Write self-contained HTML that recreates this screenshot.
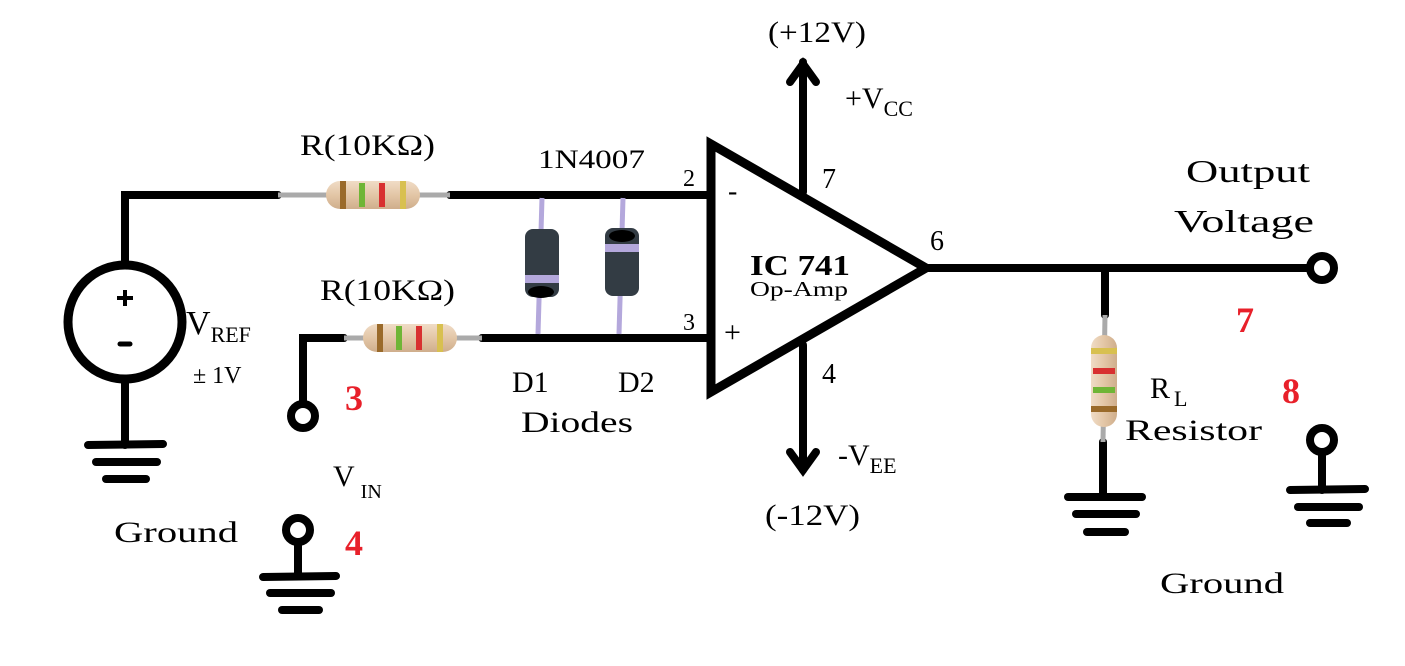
<!DOCTYPE html>
<html><head><meta charset="utf-8"><style>
body{margin:0;background:#fff;}
svg{display:block;}
text{font-family:"Liberation Serif",serif;fill:#000;}
</style></head><body>
<svg width="1405" height="666" viewBox="0 0 1405 666">
<defs>
<linearGradient id="rb" x1="0" y1="0" x2="0" y2="1"><stop offset="0" stop-color="#f0dcc6"/><stop offset="0.5" stop-color="#e3c6a6"/><stop offset="1" stop-color="#cfae8c"/></linearGradient>
<linearGradient id="rbv" x1="0" y1="0" x2="1" y2="0"><stop offset="0" stop-color="#f0dcc6"/><stop offset="0.5" stop-color="#e3c6a6"/><stop offset="1" stop-color="#cfae8c"/></linearGradient>
</defs>
<g stroke="#000" stroke-width="8" stroke-linecap="round" fill="none">
<polyline points="125,265 125,195 278,195"/>
<line x1="450" y1="195" x2="708" y2="195"/>
<polyline points="344,338 303,338 303,403"/>
<line x1="482" y1="338" x2="708" y2="338"/>
<line x1="125" y1="380" x2="125" y2="445"/>
<line x1="928" y1="268" x2="1308" y2="268"/>
<line x1="1105" y1="268" x2="1105" y2="315"/>
<line x1="1103" y1="442" x2="1103" y2="495"/>
<line x1="803" y1="192" x2="803" y2="62"/>
<polyline points="790,82 803,64 816,82"/>
<line x1="803" y1="345" x2="803" y2="470"/>
<polyline points="790,452 803,470 816,452"/>
<line x1="298" y1="542" x2="298" y2="575"/>
<line x1="1322" y1="452" x2="1322" y2="490"/>
</g>
<g stroke="#000" stroke-width="8" stroke-linecap="round">
<line x1="88" y1="445" x2="163" y2="444"/><line x1="96" y1="462" x2="157" y2="462"/><line x1="106" y1="479" x2="146" y2="479"/>
<line x1="263" y1="577" x2="336" y2="576"/><line x1="270" y1="593" x2="331" y2="593"/><line x1="282" y1="610" x2="319" y2="610"/>
<line x1="1068" y1="497" x2="1142" y2="497"/><line x1="1076" y1="514" x2="1136" y2="514"/><line x1="1087" y1="532" x2="1125" y2="532"/>
<line x1="1290" y1="490" x2="1365" y2="489"/><line x1="1298" y1="507" x2="1359" y2="507"/><line x1="1310" y1="523" x2="1347" y2="523"/>
</g>
<g stroke="#000" stroke-width="8" fill="#fff">
<circle cx="303" cy="416" r="12"/>
<circle cx="298" cy="530" r="12"/>
<circle cx="1322" cy="268" r="12"/>
<circle cx="1322" cy="440" r="12"/>
</g>
<g>
<circle cx="125" cy="322" r="57" stroke="#000" stroke-width="9" fill="#fff"/>
<line x1="117" y1="298" x2="133" y2="298" stroke="#000" stroke-width="4"/><line x1="125" y1="290" x2="125" y2="306" stroke="#000" stroke-width="4"/>
<line x1="120" y1="344" x2="130" y2="344" stroke="#000" stroke-width="5" stroke-linecap="round"/>
</g>
<g>
<line x1="278" y1="195" x2="450" y2="195" stroke="#aaa" stroke-width="5"/>
<rect x="326" y="181" width="94" height="28" rx="14" fill="url(#rb)"/>
<rect x="340" y="181" width="6" height="28" fill="#9a6a2a"/><rect x="359" y="183" width="6" height="24" fill="#6fb536"/><rect x="379" y="183" width="6" height="24" fill="#d83030"/><rect x="400" y="181" width="6" height="28" fill="#d8c050"/>
</g>
<g>
<line x1="344" y1="338" x2="482" y2="338" stroke="#aaa" stroke-width="5"/>
<rect x="363" y="324" width="94" height="28" rx="14" fill="url(#rb)"/>
<rect x="377" y="324" width="6" height="28" fill="#9a6a2a"/><rect x="396" y="326" width="6" height="24" fill="#6fb536"/><rect x="416" y="326" width="6" height="24" fill="#d83030"/><rect x="437" y="324" width="6" height="28" fill="#d8c050"/>
</g>
<g>
<line x1="1105" y1="315" x2="1103" y2="442" stroke="#aaa" stroke-width="5"/>
<rect x="1091" y="335" width="26" height="92" rx="13" fill="url(#rbv)"/>
<rect x="1091" y="348" width="26" height="6" fill="#d8c050"/><rect x="1093" y="368" width="22" height="6" fill="#d83030"/><rect x="1093" y="387" width="22" height="6" fill="#6fb536"/><rect x="1091" y="406" width="26" height="6" fill="#9a6a2a"/>
</g>
<g>
<line x1="542" y1="198" x2="538" y2="334" stroke="#b4a8dc" stroke-width="5"/>
<rect x="525" y="229" width="34" height="68" rx="8" fill="#333c44"/>
<rect x="525" y="275" width="34" height="8" fill="#b4a8dc"/>
<ellipse cx="541" cy="292" rx="13" ry="6" fill="#000"/>
</g>
<g>
<line x1="623" y1="198" x2="619" y2="334" stroke="#b4a8dc" stroke-width="5"/>
<rect x="605" y="228" width="34" height="68" rx="8" fill="#333c44"/>
<rect x="605" y="244" width="34" height="8" fill="#b4a8dc"/>
<ellipse cx="622" cy="236" rx="13" ry="6" fill="#000"/>
</g>
<polygon points="711,144 711,392 926,268" fill="#fff" stroke="#000" stroke-width="9" stroke-linejoin="miter"/>
<text x="768" y="42" font-size="30" textLength="98" lengthAdjust="spacingAndGlyphs">(+12V)</text>
<text x="845" y="108" font-size="30">+V<tspan font-size="22" dy="8">CC</tspan></text>
<text x="822" y="188" font-size="28">7</text>
<text x="822" y="383" font-size="28">4</text>
<text x="930" y="250" font-size="28">6</text>
<text x="683" y="186" font-size="24">2</text>
<text x="683" y="330" font-size="24">3</text>
<text x="728" y="200" font-size="28">-</text>
<text x="724" y="342" font-size="30">+</text>
<text x="750" y="275" font-size="28" font-weight="bold" textLength="100" lengthAdjust="spacingAndGlyphs">IC 741</text>
<text x="750" y="296" font-size="21" textLength="98" lengthAdjust="spacingAndGlyphs">Op-Amp</text>
<text x="838" y="465" font-size="30">-V<tspan font-size="22" dy="8">EE</tspan></text>
<text x="765" y="525" font-size="30" textLength="95" lengthAdjust="spacingAndGlyphs">(-12V)</text>
<text x="300" y="155" font-size="30" textLength="135" lengthAdjust="spacingAndGlyphs">R(10KΩ)</text>
<text x="320" y="300" font-size="30" textLength="135" lengthAdjust="spacingAndGlyphs">R(10KΩ)</text>
<text x="538" y="168" font-size="26" textLength="107" lengthAdjust="spacingAndGlyphs">1N4007</text>
<text x="512" y="392" font-size="30">D1</text>
<text x="618" y="392" font-size="30">D2</text>
<text x="521" y="432" font-size="30" textLength="112" lengthAdjust="spacingAndGlyphs">Diodes</text>
<text x="186" y="334" font-size="34">V<tspan font-size="22" dy="8">REF</tspan></text>
<text x="193" y="383" font-size="24">± 1V</text>
<text x="333" y="486" font-size="30">V<tspan font-size="20" dy="12" dx="6">IN</tspan></text>
<text x="114" y="542" font-size="30" textLength="124" lengthAdjust="spacingAndGlyphs">Ground</text>
<text x="345" y="410" font-size="36" font-weight="bold" style="fill:#e8202a">3</text>
<text x="345" y="555" font-size="36" font-weight="bold" style="fill:#e8202a">4</text>
<text x="1186" y="182" font-size="32" textLength="124" lengthAdjust="spacingAndGlyphs">Output</text>
<text x="1174" y="232" font-size="32" textLength="140" lengthAdjust="spacingAndGlyphs">Voltage</text>
<text x="1236" y="332" font-size="36" font-weight="bold" style="fill:#e8202a">7</text>
<text x="1282" y="403" font-size="36" font-weight="bold" style="fill:#e8202a">8</text>
<text x="1150" y="398" font-size="30">R<tspan font-size="22" dx="4" dy="8">L</tspan></text>
<text x="1125" y="440" font-size="30" textLength="137" lengthAdjust="spacingAndGlyphs">Resistor</text>
<text x="1160" y="593" font-size="30" textLength="124" lengthAdjust="spacingAndGlyphs">Ground</text>
</svg>
</body></html>
